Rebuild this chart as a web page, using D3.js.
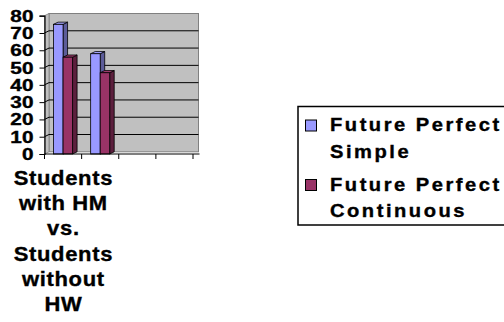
<!DOCTYPE html>
<html>
<head>
<meta charset="utf-8">
<script src="https://cdn.jsdelivr.net/npm/d3@7"></script>
<style>
  html, body { margin: 0; padding: 0; background: #ffffff; }
  svg { display: block; }
  text { font-family: Arial, "Liberation Sans", sans-serif; font-weight: bold; fill: #000; stroke: #000; stroke-width: 0.35px; }
</style>
</head>
<body>
<svg id="chart" width="504" height="322"></svg>
<script>
// Chart data
const categories = ["Students with HM vs. Students without HW", "", "", ""];
const seriesNames = ["Future Perfect Simple", "Future Perfect Continuous"];
const simpleValues = [75, 58, null, null];
const continuousValues = [56, 47, null, null];
const yTicks = [0, 10, 20, 30, 40, 50, 60, 70, 80];

const colors = {
  "Future Perfect Simple": { front: "#9999ff", top: "#a3a3ff", side: "#5c5c99" },
  "Future Perfect Continuous": { front: "#993366", top: "#a33d70", side: "#5c1f3d" }
};
const seriesValues = {
  "Future Perfect Simple": simpleValues,
  "Future Perfect Continuous": continuousValues
};

const svg = d3.select("#chart");

// Plot frame (front plane) and depth offset for the 3D look
const plot = { left: 44.5, right: 193, top: 15.7, bottom: 154 };
const depth = { dx: 4.5, dy: -2.2 };

const x = d3.scaleBand().domain(d3.range(categories.length)).range([plot.left, plot.right]).paddingInner(0).paddingOuter(0);
const xs = d3.scaleBand().domain(seriesNames).range([0, x.bandwidth()]).paddingInner(0).paddingOuter(0.95);
const y = d3.scaleLinear().domain([0, 80]).range([plot.bottom, plot.top]);

const g = svg.append("g");

// Back wall
g.append("rect")
  .attr("x", plot.left + depth.dx)
  .attr("y", plot.top + depth.dy)
  .attr("width", plot.right - plot.left + 1)
  .attr("height", plot.bottom - plot.top)
  .attr("fill", "#c0c0c0")
  .attr("stroke", "#808080")
  .attr("stroke-width", 1);

// Side wall on the left
g.append("path")
  .attr("d", `M${plot.left},${plot.top} L${plot.left + depth.dx},${plot.top + depth.dy} L${plot.left + depth.dx},${plot.bottom + depth.dy} L${plot.left},${plot.bottom} Z`)
  .attr("fill", "#c0c0c0")
  .attr("stroke", "#808080")
  .attr("stroke-width", 0.8);

// Gridlines across the back wall and side wall
const grid = g.append("g");
yTicks.filter(v => v > 0 && v < 80).forEach(v => {
  const yy = y(v);
  grid.append("path")
    .attr("d", `M${plot.left},${yy} L${plot.left + depth.dx},${yy + depth.dy} L${plot.right + depth.dx + 1},${yy + depth.dy}`)
    .attr("fill", "none")
    .attr("stroke", "#000")
    .attr("stroke-width", 1);
});

// Bars: right side face, top face, then front face
const bars = g.append("g");
categories.forEach((c, i) => {
  seriesNames.forEach(s => {
    const v = seriesValues[s][i];
    if (v == null) return;
    const x0 = x(i) + xs(s);
    const w = xs.bandwidth();
    const yt = y(v);
    const yb = y(0);
    const col = colors[s];
    bars.append("path")
      .attr("d", `M${x0 + w},${yt} L${x0 + w + depth.dx},${yt + depth.dy} L${x0 + w + depth.dx},${yb + depth.dy} L${x0 + w},${yb} Z`)
      .attr("fill", col.side).attr("stroke", "#000").attr("stroke-width", 0.8);
    bars.append("path")
      .attr("d", `M${x0},${yt} L${x0 + depth.dx},${yt + depth.dy} L${x0 + w + depth.dx},${yt + depth.dy} L${x0 + w},${yt} Z`)
      .attr("fill", col.top).attr("stroke", "#000").attr("stroke-width", 0.8);
    bars.append("rect")
      .attr("x", x0).attr("y", yt).attr("width", w).attr("height", yb - yt)
      .attr("fill", col.front).attr("stroke", "#000").attr("stroke-width", 0.8);
  });
});

// Value axis
const yAxis = svg.append("g")
  .attr("transform", `translate(${plot.left},0)`)
  .call(d3.axisLeft(y).tickValues(yTicks).tickSize(5).tickPadding(6));
yAxis.select(".domain").attr("stroke", "#000").attr("stroke-width", 1.2);
yAxis.selectAll(".tick line").attr("stroke", "#000").attr("stroke-width", 1);
yAxis.selectAll(".tick text")
  .style("font-size", "16px")
  .style("font-weight", "bold")
  .style("font-family", "Arial, 'Liberation Sans', sans-serif")
  .attr("x", null).attr("dy", null)
  .attr("transform", "translate(-11,5.5) scale(1.3,1)");

// Category axis: line with tick marks at category boundaries
const xAxis = svg.append("g").attr("transform", `translate(0,${plot.bottom})`);
xAxis.append("line")
  .attr("x1", plot.left).attr("x2", plot.right + depth.dx + 2)
  .attr("y1", 0).attr("y2", 0)
  .attr("stroke", "#000").attr("stroke-width", 1.2);
const bounds = categories.map((c, i) => x(i)).concat([x(categories.length - 1) + x.step()]);
xAxis.selectAll("line.tick").data(bounds).join("line")
  .attr("class", "tick")
  .attr("x1", d => d).attr("x2", d => d)
  .attr("y1", 0).attr("y2", 5)
  .attr("stroke", "#000").attr("stroke-width", 1);

// Category labels, wrapped to a fixed width and slightly widened
const labelFont = { size: 20, spacing: 0.6, stretch: 1.1, lineHeight: 25.2, maxWidth: 98 };
categories.forEach((c, i) => {
  if (!c) return;
  const cx = x(i) + x.bandwidth() / 2;
  const t = xAxis.append("text")
    .attr("text-anchor", "middle")
    .attr("transform", `translate(${cx},31) scale(${labelFont.stretch},1)`)
    .style("font-size", labelFont.size + "px")
    .style("letter-spacing", labelFont.spacing + "px");
  const words = c.split(" ");
  let line = [];
  let lineNo = 0;
  let tspan = t.append("tspan").attr("x", labelFont.spacing / 2).attr("y", 0);
  words.forEach(wd => {
    line.push(wd);
    tspan.text(line.join(" "));
    if (tspan.node().getComputedTextLength() > labelFont.maxWidth && line.length > 1) {
      line.pop();
      tspan.text(line.join(" "));
      line = [wd];
      lineNo += 1;
      tspan = t.append("tspan").attr("x", labelFont.spacing / 2).attr("y", lineNo * labelFont.lineHeight).text(wd);
    }
  });
});

// Legend
const legend = svg.append("g");
legend.append("rect")
  .attr("x", 298).attr("y", 106.5).attr("width", 240).attr("height", 118.5)
  .attr("fill", "#fff").attr("stroke", "#000").attr("stroke-width", 1.5);
const legendWrap = { "Future Perfect Simple": ["Future Perfect", "Simple"],
                     "Future Perfect Continuous": ["Future Perfect", "Continuous"] };
seriesNames.forEach((s, i) => {
  const top = 120 + i * 59.5;
  legend.append("rect")
    .attr("x", 305.5).attr("y", top).attr("width", 11).attr("height", 11)
    .attr("fill", colors[s].front).attr("stroke", "#000").attr("stroke-width", 1);
  const t = legend.append("text")
    .attr("transform", `translate(330,${top + 11}) scale(1.15,1)`)
    .style("font-size", "17.5px")
    .style("letter-spacing", "2.2px");
  legendWrap[s].forEach((ln, j) => {
    t.append("tspan").attr("x", 0).attr("y", j * 26.8).text(ln);
  });
});
</script>
</body>
</html>
